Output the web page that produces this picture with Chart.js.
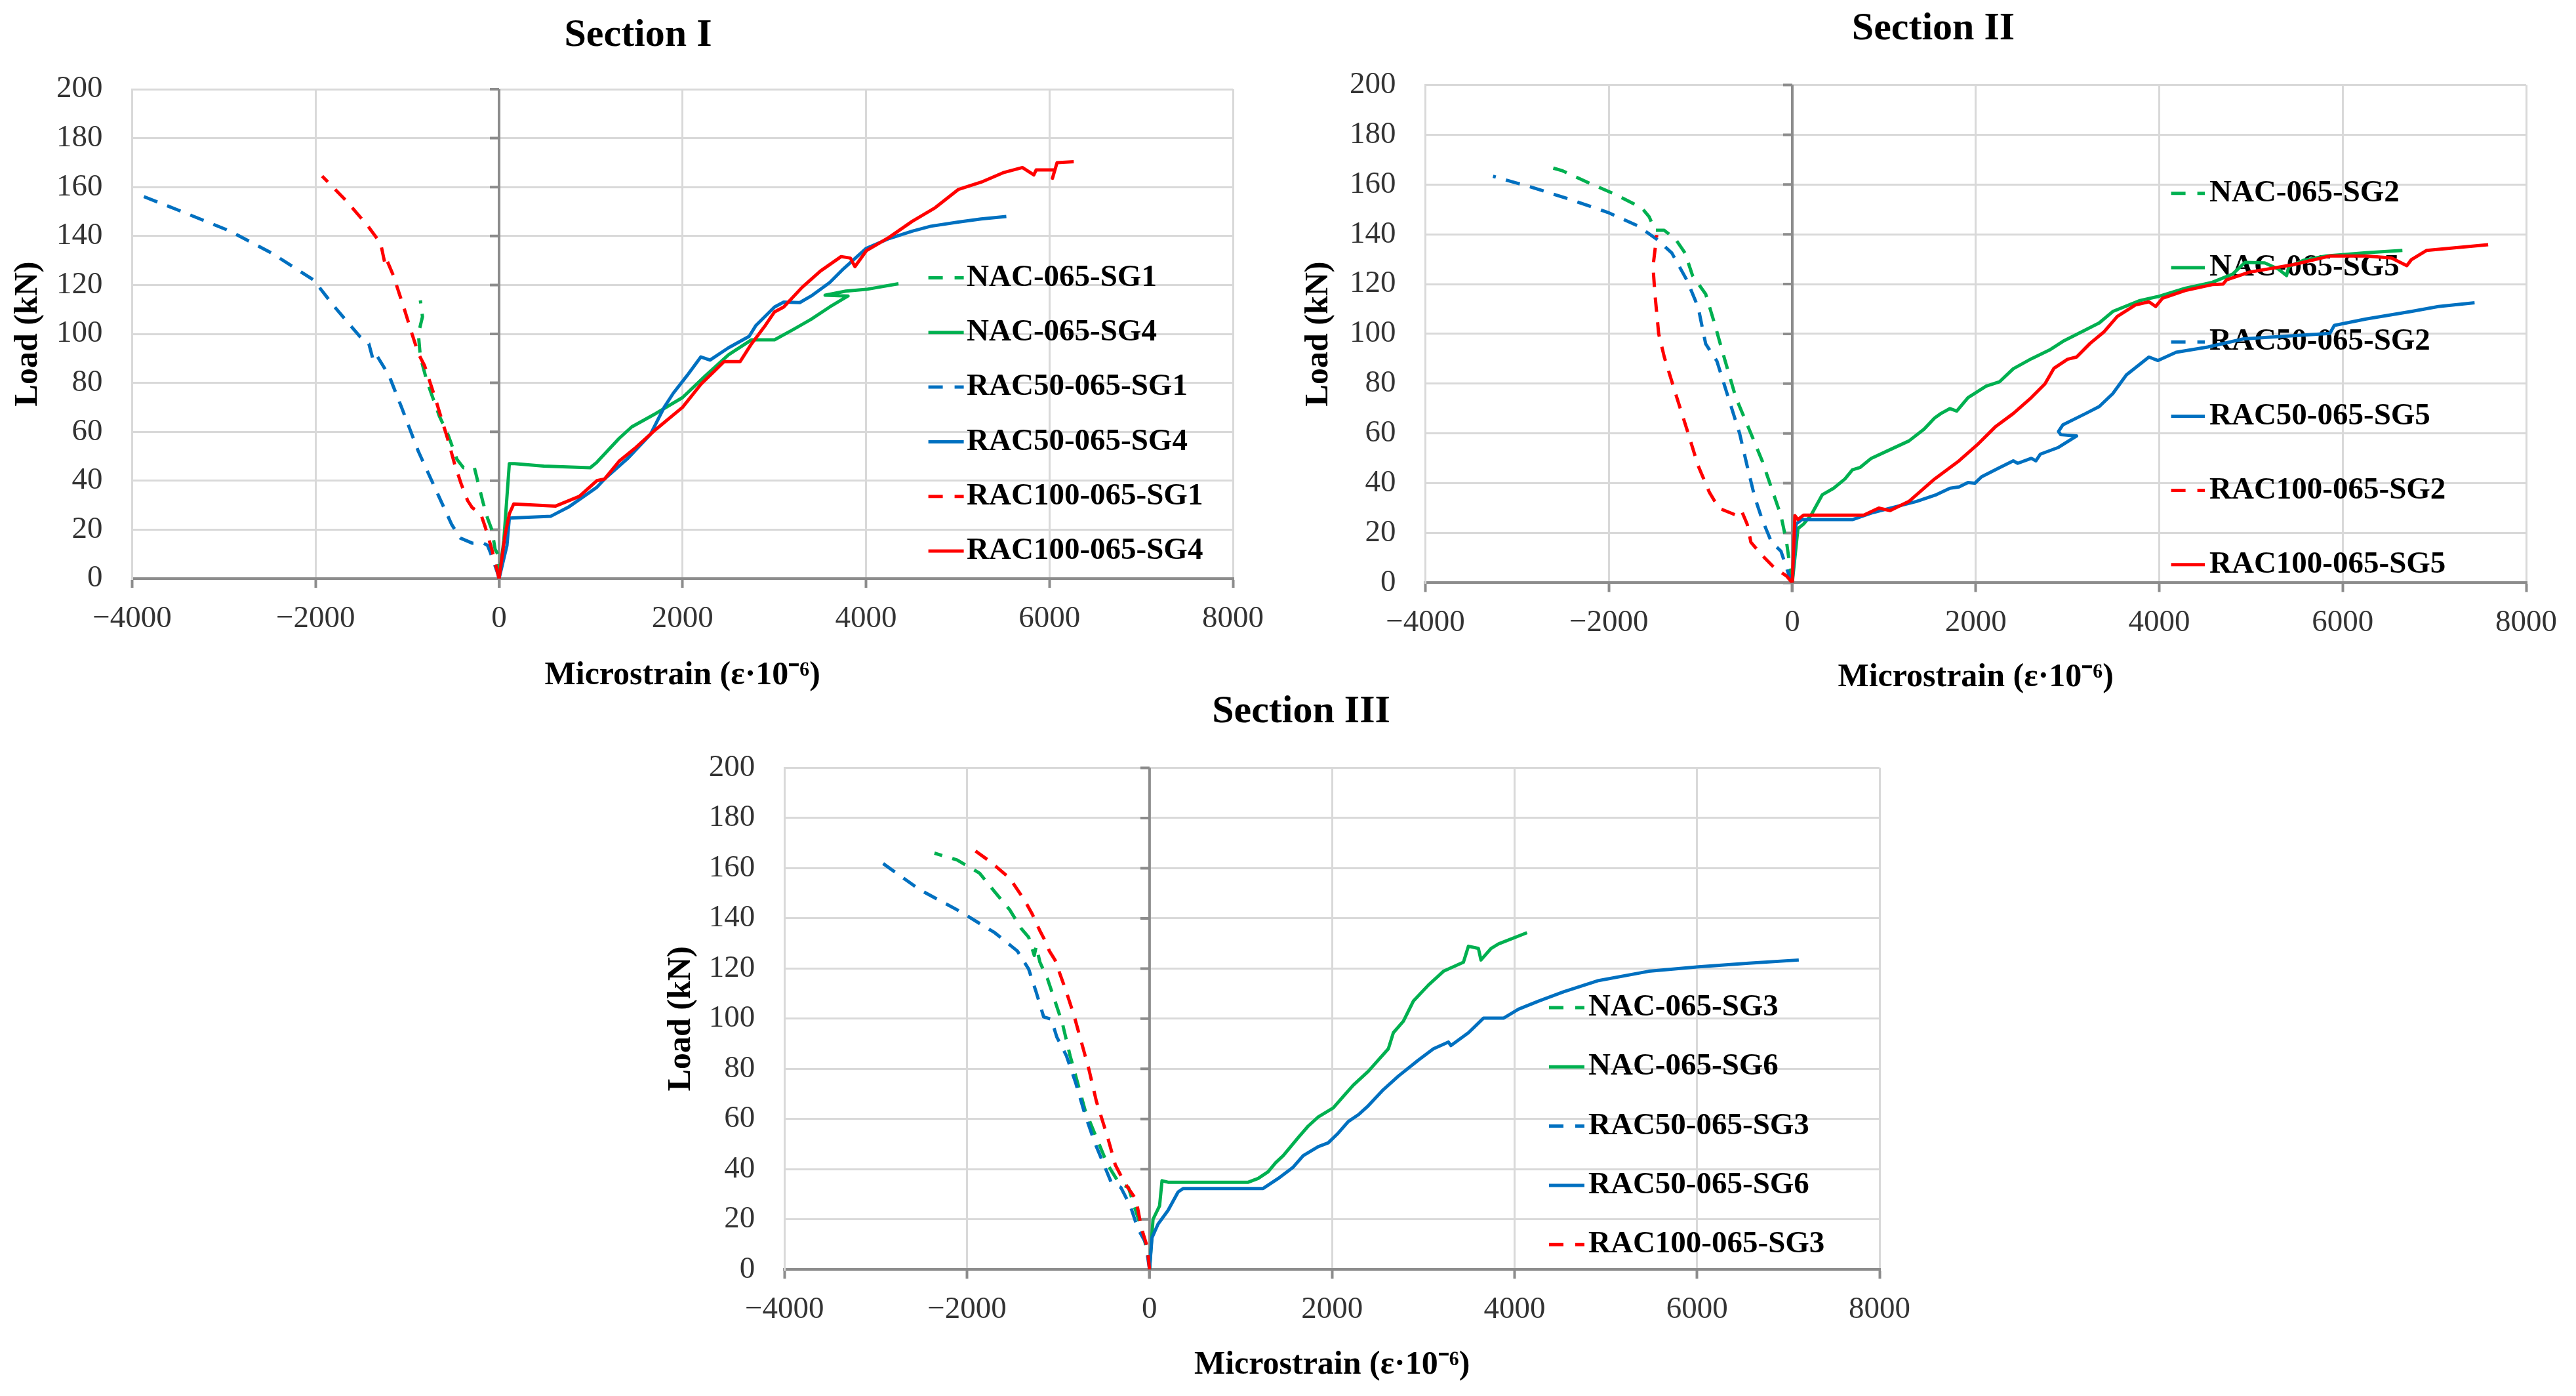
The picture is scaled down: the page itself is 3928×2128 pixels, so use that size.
<!DOCTYPE html>
<html>
<head>
<meta charset="utf-8">
<script src="https://cdn.jsdelivr.net/npm/chart.js@4/dist/chart.umd.min.js"></script>
<style>
html,body{margin:0;padding:0;background:#fff;overflow:hidden;width:3928px;height:2128px;}
.wrap{position:absolute;}
canvas{display:block;}
</style>
</head>
<body>
<div class="wrap" style="left:0px;top:0px;width:1946px;height:1080px"><canvas id="c1"></canvas></div>
<div class="wrap" style="left:1968px;top:0px;width:1960px;height:1083px"><canvas id="c2"></canvas></div>
<div class="wrap" style="left:996px;top:1020px;width:1976px;height:1108px"><canvas id="c3"></canvas></div>
<script>
// ---------------- DATA ----------------
const xTickValues = [-4000, -2000, 0, 2000, 4000, 6000, 8000];
const xTickLabels = ['\u22124000', '\u22122000', '0', '2000', '4000', '6000', '8000'];
const yTickValues = [0, 20, 40, 60, 80, 100, 120, 140, 160, 180, 200];
const yTickLabels = ['0', '20', '40', '60', '80', '100', '120', '140', '160', '180', '200'];

// Section I
const s1_NAC_SG1_x = [0, -7, -43, -79, -126, -174, -269, -388, -460, -555, -652, -789, -858, -880, -835, -858];
const s1_NAC_SG1_y = [0, 9.5, 12, 20, 24.7, 31, 45.3, 45.3, 48.8, 58.7, 66.5, 81, 90.6, 100, 107, 113.7];
const s1_NAC_SG4_x = [0, 52, 112, 169, 488, 994, 1065, 1172, 1309, 1446, 1710, 2000, 2253, 2503, 2753, 3003, 3203, 3403, 3604, 3804, 3554, 3780, 4004, 4354];
const s1_NAC_SG4_y = [0, 15.7, 47, 47, 46, 45.3, 47.5, 51.8, 57.3, 62, 67.5, 74, 83, 91.5, 97.6, 97.6, 101.7, 106, 111, 115.5, 115.8, 117.5, 118.2, 120.5];
const s1_RAC50_SG1_x = [0, -14, -93, -126, -172, -293, -424, -515, -698, -880, -1063, -1200, -1330, -1370, -1420, -1519, -1793, -2021, -2477, -2933, -3526, -3913];
const s1_RAC50_SG1_y = [0, 2, 10.5, 13.6, 14.5, 14.5, 16.6, 22, 37, 52, 70, 83, 91, 89, 96, 99, 111, 122, 133, 142, 151, 156.7];
const s1_RAC50_SG4_x = [0, 86, 112, 565, 756, 1065, 1150, 1400, 1651, 1800, 1900, 2050, 2200, 2300, 2500, 2726, 2801, 3003, 3103, 3278, 3403, 3604, 3754, 4004, 4254, 4504, 4705, 5005, 5255, 5530];
const s1_RAC50_SG4_y = [0, 13.5, 24.7, 25.5, 29.2, 37.3, 40.7, 49, 59, 70, 75.8, 83, 90.6, 89.3, 94.3, 99, 103.5, 111, 113, 112.8, 115.5, 121, 126.6, 135, 139, 142, 144, 145.7, 147, 148];
const s1_RAC100_SG1_x = [0, -79, -150, -200, -293, -343, -415, -486, -558, -698, -812, -880, -949, -1040, -1154, -1222, -1240, -1291, -1428, -1656, -1929];
const s1_RAC100_SG1_y = [0, 12, 21, 26.5, 29, 31.9, 38.9, 47, 56.8, 74, 87, 92, 100, 111, 124, 130, 128, 137, 144, 154, 164.5];
const s1_RAC100_SG4_x = [0, 64, 112, 160, 613, 875, 1065, 1150, 1309, 1491, 1710, 2000, 2202, 2353, 2453, 2628, 2753, 2903, 3003, 3103, 3303, 3504, 3729, 3829, 3879, 4004, 4254, 4504, 4755, 5005, 5255, 5505, 5705, 5830, 5855, 6058, 6033, 6083, 6265];
const s1_RAC100_SG4_y = [0, 17.5, 26.5, 30.5, 29.6, 33.6, 40, 40.7, 48, 53.6, 61, 70, 79.5, 85, 88.7, 88.7, 96, 103.5, 109, 111, 119, 125.7, 131.6, 131, 127.5, 134, 139.5, 146, 151.6, 159, 162, 166, 168, 165, 167, 167, 163.6, 170, 170.4];

// Section II
const s2_NAC_SG2_x = [0, -21, -62, -123, -226, -328, -451, -615, -759, -841, -944, -1087, -1169, -1272, -1395, -1497, -1559, -1641, -1928, -2215, -2503, -2605];
const s2_NAC_SG2_y = [0, 5.4, 16.3, 27, 38, 49, 60, 74.4, 92.6, 103.4, 116, 123.4, 132.5, 138, 141.6, 141.6, 147, 150.6, 156, 160.6, 165.5, 166.6];
const s2_NAC_SG5_x = [0, 62, 123, 205, 328, 451, 574, 656, 738, 861, 1067, 1272, 1436, 1551, 1620, 1719, 1793, 1916, 2113, 2261, 2409, 2606, 2804, 2951, 3149, 3346, 3494, 3790, 3987, 4283, 4578, 4800, 4935, 5150, 5300, 5388, 5412, 5577, 5817, 6255, 6651];
const s2_NAC_SG5_y = [0, 21.8, 23.6, 27.2, 35.4, 38, 41.7, 45.4, 46.3, 50, 53.5, 57, 61.7, 66.2, 68, 70, 69, 74.4, 79, 80.8, 86, 90, 93.5, 97, 100.7, 104.4, 109, 113.4, 115, 118.3, 120.7, 124, 128.7, 128.5, 126, 123.4, 127, 129.6, 131.3, 132.6, 133.5];
const s2_RAC50_SG2_x = [0, -41, -123, -226, -328, -410, -492, -574, -697, -821, -944, -1026, -1149, -1313, -1477, -1682, -2010, -2421, -2831, -3262];
const s2_RAC50_SG2_y = [0, 3.6, 12.7, 16.3, 25.4, 34.5, 47, 60, 74.4, 89, 96, 110.7, 121.6, 132.5, 138, 143.4, 148.8, 154, 158.8, 163.3];
const s2_RAC50_SG5_x = [0, 41, 103, 656, 861, 1067, 1354, 1571, 1719, 1818, 1916, 1990, 2064, 2261, 2409, 2458, 2606, 2656, 2705, 2902, 3099, 2927, 2902, 2951, 3198, 3346, 3494, 3642, 3888, 3987, 4184, 4529, 4923, 5860, 5909, 6255, 6748, 7043, 7438];
const s2_RAC50_SG5_y = [0, 23.6, 25.4, 25.4, 28, 30, 32.7, 35.4, 38, 38.5, 40.3, 40, 42.6, 46.3, 49, 48, 50, 49, 51.7, 54.4, 59, 59.5, 60.8, 63.5, 68, 70.8, 76, 83.5, 90.7, 89.3, 92.6, 94.7, 98, 100.2, 103.4, 106, 109, 111, 112.5];
const s2_RAC100_SG2_x = [0, -62, -205, -328, -451, -492, -554, -615, -800, -903, -1026, -1149, -1272, -1395, -1456, -1497, -1518, -1477];
const s2_RAC100_SG2_y = [0, 2.7, 6.4, 11, 16.3, 23.6, 29, 27.2, 30, 36.3, 47, 61.7, 76, 90.7, 100, 116, 127, 139.7];
const s2_RAC100_SG5_x = [0, 29, 62, 123, 779, 943, 1067, 1272, 1551, 1818, 2015, 2212, 2409, 2606, 2754, 2853, 3001, 3099, 3247, 3395, 3543, 3740, 3888, 3962, 4036, 4283, 4578, 4697, 4733, 4983, 5460, 5865, 6255, 6532, 6699, 6748, 6913, 7586];
const s2_RAC100_SG5_y = [0, 27, 25.4, 27.2, 27.2, 30, 29, 32.7, 41.7, 49, 55.4, 62.6, 68, 74.4, 79.9, 86.2, 89.8, 90.7, 96.2, 100.7, 107, 111.6, 112.9, 111, 114.3, 117.4, 119.8, 120, 121.7, 124.8, 127.8, 131.3, 131.3, 130.5, 127.4, 129.8, 133.5, 135.8];

// Section III
const s3_NAC_SG3_x = [0, 0, -87, -169, -231, -334, -458, -582, -706, -788, -871, -954, -1036, -1119, -1201, -1242, -1263, -1325, -1408, -1532, -1697, -1862, -2109, -2357];
const s3_NAC_SG3_y = [0, 3.6, 16.3, 25.4, 32.7, 34.5, 41.7, 52.6, 63.5, 74.4, 85.3, 98, 107, 116, 122.5, 128.9, 125.2, 132.5, 136, 143.4, 150.6, 158, 163.3, 166];
const s3_NAC_SG6_x = [0, 38, 110, 137, 203, 1081, 1190, 1300, 1382, 1465, 1547, 1629, 1739, 1849, 2013, 2123, 2233, 2397, 2507, 2617, 2672, 2782, 2891, 3056, 3221, 3440, 3495, 3604, 3632, 3742, 3824, 4137];
const s3_NAC_SG6_y = [0, 20, 25.4, 35.4, 34.8, 34.8, 36.3, 39, 42.6, 45.4, 49, 52.6, 57.2, 60.8, 64.4, 69, 73.5, 79, 83.5, 88, 94.4, 99, 107, 113.4, 118.9, 122.5, 128.9, 128, 123.4, 128, 129.8, 134.3];
const s3_RAC50_SG3_x = [0, -45, -128, -211, -314, -417, -499, -603, -706, -809, -912, -1015, -1077, -1160, -1243, -1325, -1449, -1697, -1985, -2109, -2522, -2956];
const s3_RAC50_SG3_y = [0, 10.9, 16.3, 25.4, 32.7, 34.5, 41.7, 50.8, 61.7, 74.4, 85.3, 92.6, 99.8, 100.7, 110.7, 119.8, 127, 134.3, 140.7, 143.4, 151.5, 162.8];
const s3_RAC50_SG6_x = [0, 27, 93, 203, 313, 368, 1245, 1410, 1574, 1684, 1849, 1958, 2068, 2178, 2288, 2397, 2562, 2727, 2946, 3111, 3275, 3303, 3495, 3659, 3879, 4043, 4262, 4537, 4921, 5470, 6018, 6567, 7115];
const s3_RAC50_SG6_y = [0, 12.7, 18.1, 23.6, 30.9, 32.3, 32.3, 36.3, 40.8, 45.4, 49, 50.5, 54.4, 59, 61.7, 65.3, 71.7, 77.1, 83.5, 88, 90.7, 89.3, 94.4, 100.2, 100.2, 103.8, 107, 110.7, 115.2, 118.9, 120.7, 122.1, 123.4];
const s3_RAC100_SG3_x = [0, -25, -87, -149, -272, -375, -458, -582, -665, -747, -830, -912, -1036, -1098, -1139, -1201, -1284, -1366, -1532, -1738, -1924, -1986];
const s3_RAC100_SG3_y = [0, 9, 16.3, 28, 34.5, 41.7, 52.6, 67, 79.9, 90.7, 101.6, 110.7, 123.4, 127, 130.7, 135, 141.6, 147, 156, 162.4, 167.3, 167];

// ---------------- STYLE / LAYOUT ----------------
const GREEN = '#00b050', BLUE = '#0070c0', RED = '#ff0000';
const DASH = [22, 16];
const FONT = '"Liberation Serif", "Times New Roman", serif';
Chart.defaults.font.family = FONT;

function pts(xs, ys) { return xs.map((x, i) => ({ x: x, y: ys[i] })); }

function ds(label, xs, ys, color, dashed, idx, n) {
  return {
    label: label,
    data: pts(xs, ys),
    borderColor: color,
    backgroundColor: color,
    borderDash: dashed ? DASH : [],
    borderWidth: 5,
    pointRadius: 0,
    pointHoverRadius: 0,
    showLine: true,
    fill: false,
    tension: 0,
    borderCapStyle: 'butt',
    borderJoinStyle: 'round',
    order: n - idx,
    xAxisID: 'x',
    yAxisID: 'y'
  };
}

const decorPlugin = {
  id: 'decor',
  beforeDatasetsDraw(chart, args, opts) {
    const ctx = chart.ctx;
    const xs = chart.scales.x, ys = chart.scales.y;
    const x0 = xs.getPixelForValue(0);
    ctx.save();
    // vertical axis crossing at x = 0
    ctx.strokeStyle = '#8c8c8c';
    ctx.lineWidth = 4;
    ctx.setLineDash([]);
    ctx.beginPath();
    ctx.moveTo(x0, ys.top);
    ctx.lineTo(x0, ys.bottom + 14);
    ys.ticks.forEach(t => {
      const y = ys.getPixelForValue(t.value);
      ctx.moveTo(x0 - 14, y);
      ctx.lineTo(x0, y);
    });
    ctx.stroke();
    // legend (drawn beneath the series, like the original)
    const L = opts;
    chart.data.datasets.forEach((d, i) => {
      const y = L.y + i * L.dy;
      ctx.strokeStyle = d.borderColor;
      ctx.lineWidth = 5;
      ctx.setLineDash(d.borderDash && d.borderDash.length ? [22, 18] : []);
      ctx.beginPath();
      ctx.moveTo(L.x, y);
      ctx.lineTo(L.x + L.len, y);
      ctx.stroke();
      ctx.setLineDash([]);
      ctx.fillStyle = '#000';
      ctx.font = 'bold 47px ' + FONT;
      ctx.textBaseline = 'middle';
      ctx.textAlign = 'left';
      ctx.fillText(d.label, L.x + L.len + L.gap, y);
    });
    ctx.restore();
  }
};

function makeChart(id, c) {
  const n = c.series.length;
  const datasets = c.series.map((s, i) => ds(s[0], s[1], s[2], s[3], s[4], i, n));
  return new Chart(document.getElementById(id), {
    type: 'scatter',
    data: { datasets: datasets },
    plugins: [decorPlugin],
    options: {
      responsive: true,
      maintainAspectRatio: false,
      devicePixelRatio: 1,
      animation: false,
      events: [],
      layout: { padding: 0 },
      plugins: {
        legend: { display: false },
        tooltip: { enabled: false },
        title: {
          display: true,
          text: c.title,
          color: '#000',
          font: { family: FONT, size: 60, weight: 'bold', lineHeight: 1.2 },
          padding: { top: c.titlePadTop, bottom: c.titlePadBottom }
        },
        decor: c.legend
      },
      scales: {
        x: {
          type: 'linear',
          position: 'bottom',
          min: -4000, max: 8000,
          ticks: {
            stepSize: 2000,
            padding: c.xTickPad,
            color: '#333',
            font: { family: FONT, size: 47, lineHeight: 1.2 },
            maxRotation: 0,
            autoSkip: false,
            callback: (v) => { const k = xTickValues.indexOf(v); return k >= 0 ? xTickLabels[k] : ''; }
          },
          grid: { color: '#d9d9d9', lineWidth: 3, drawTicks: true, tickLength: 14, tickColor: '#8c8c8c', tickWidth: 4 },
          border: { display: true, color: '#8c8c8c', width: 4 },
          title: {
            display: true,
            text: 'Microstrain (\u03b5\u00b710\u207b\u2076)',
            color: '#000',
            font: { family: FONT, size: 50, weight: 'bold', lineHeight: 1.2 },
            padding: { top: 0, bottom: c.xTitlePadBottom }
          },
          afterFit: (s) => { s.height = c.xAxisH; }
        },
        y: {
          type: 'linear',
          position: 'left',
          min: 0, max: 200,
          ticks: {
            stepSize: 20,
            padding: 45,
            color: '#333',
            font: { family: FONT, size: 47, lineHeight: 1.2 },
            autoSkip: false,
            callback: (v) => { const k = yTickValues.indexOf(v); return k >= 0 ? yTickLabels[k] : ''; }
          },
          grid: { color: '#d9d9d9', lineWidth: 3, drawTicks: false },
          border: { display: true, color: '#d9d9d9', width: 3 },
          title: {
            display: true,
            text: 'Load (kN)',
            color: '#000',
            font: { family: FONT, size: 50, weight: 'bold', lineHeight: 1.2 },
            padding: { top: 13, bottom: 0 }
          },
          afterFit: (s) => { s.width = c.yAxisW; }
        },
        yr: {
          type: 'linear',
          position: 'right',
          display: true,
          min: 0, max: 200,
          ticks: { display: false },
          grid: { display: false, drawTicks: false },
          border: { display: false },
          afterFit: (s) => { s.width = c.rightW; }
        }
      }
    }
  });
}

makeChart('c1', {
  title: 'Section I',
  titlePadTop: 18, titlePadBottom: 46,
  yAxisW: 201.5, xAxisH: 198, rightW: 66,
  xTickPad: 19, xTitlePadBottom: 20,
  legend: { x: 1415.6, y: 423.5, dy: 83.3, len: 54, gap: 4.5 },
  series: [
    ['NAC-065-SG1', s1_NAC_SG1_x, s1_NAC_SG1_y, GREEN, true],
    ['NAC-065-SG4', s1_NAC_SG4_x, s1_NAC_SG4_y, GREEN, false],
    ['RAC50-065-SG1', s1_RAC50_SG1_x, s1_RAC50_SG1_y, BLUE, true],
    ['RAC50-065-SG4', s1_RAC50_SG4_x, s1_RAC50_SG4_y, BLUE, false],
    ['RAC100-065-SG1', s1_RAC100_SG1_x, s1_RAC100_SG1_y, RED, true],
    ['RAC100-065-SG4', s1_RAC100_SG4_x, s1_RAC100_SG4_y, RED, false]
  ]
});

makeChart('c2', {
  title: 'Section II',
  titlePadTop: 8.8, titlePadBottom: 48.7,
  yAxisW: 205.4, xAxisH: 194.6, rightW: 76,
  xTickPad: 19.4, xTitlePadBottom: 20,
  legend: { x: 1342.6, y: 294.8, dy: 113.2, len: 51.4, gap: 7 },
  series: [
    ['NAC-065-SG2', s2_NAC_SG2_x, s2_NAC_SG2_y, GREEN, true],
    ['NAC-065-SG5', s2_NAC_SG5_x, s2_NAC_SG5_y, GREEN, false],
    ['RAC50-065-SG2', s2_RAC50_SG2_x, s2_RAC50_SG2_y, BLUE, true],
    ['RAC50-065-SG5', s2_RAC50_SG5_x, s2_RAC50_SG5_y, BLUE, false],
    ['RAC100-065-SG2', s2_RAC100_SG2_x, s2_RAC100_SG2_y, RED, true],
    ['RAC100-065-SG5', s2_RAC100_SG5_x, s2_RAC100_SG5_y, RED, false]
  ]
});

makeChart('c3', {
  title: 'Section III',
  titlePadTop: 29, titlePadBottom: 49.5,
  yAxisW: 200.3, xAxisH: 192.8, rightW: 106,
  xTickPad: 18.9, xTitlePadBottom: 17,
  legend: { x: 1366, y: 516, dy: 90.3, len: 54, gap: 6 },
  series: [
    ['NAC-065-SG3', s3_NAC_SG3_x, s3_NAC_SG3_y, GREEN, true],
    ['NAC-065-SG6', s3_NAC_SG6_x, s3_NAC_SG6_y, GREEN, false],
    ['RAC50-065-SG3', s3_RAC50_SG3_x, s3_RAC50_SG3_y, BLUE, true],
    ['RAC50-065-SG6', s3_RAC50_SG6_x, s3_RAC50_SG6_y, BLUE, false],
    ['RAC100-065-SG3', s3_RAC100_SG3_x, s3_RAC100_SG3_y, RED, true]
  ]
});
</script>
</body>
</html>
